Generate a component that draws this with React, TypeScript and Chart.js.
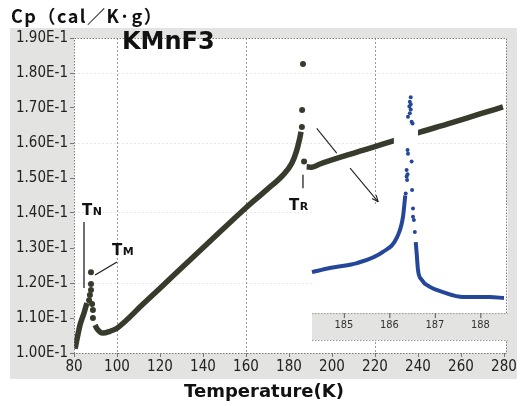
import React, { useEffect, useRef } from "react";
import { Chart, registerables } from "chart.js";
Chart.register(...registerables);

// ---- axes ----
const X_MIN = 80;
const X_MAX = 280;
const X_STEP = 20;
const Y_MIN = 0.1;
const Y_MAX = 0.19;
const Y_STEP = 0.01;
const X_GRID_VALUES = [100, 160, 220];
const Y_GRID_VALUES = [0.12, 0.14, 0.16, 0.18];
const INSET_X_MIN = 179.07;
const INSET_X_MAX = 188.52;
const INSET_TICKS = [185, 186, 187, 188];

// ---- main series (T in K, Cp in cal/K·g) ----
const RISE_T = [80.5, 82.8, 84.7, 86.0];
const RISE_CP = [0.1012, 0.108, 0.1115, 0.1143];
const TN_DOT_T = [87.0, 87.4, 87.9, 87.9, 87.9, 88.4, 88.8, 88.8];
const TN_DOT_CP = [0.1151, 0.1166, 0.118, 0.1197, 0.1231, 0.114, 0.1123, 0.11];
const MID_T = [89.8, 90.7, 92.1, 93.5, 96.7, 100, 112, 126, 142, 160, 169.6, 177.3, 181.3, 183.6, 184.8, 185.6];
const MID_CP = [0.108, 0.1069, 0.106, 0.1057, 0.1062, 0.1071, 0.1139, 0.122, 0.1312, 0.1415, 0.1466, 0.1509, 0.1542, 0.1579, 0.1608, 0.1632];
const TR_DOT_T = [186.0, 186.1, 186.5, 187.0];
const TR_DOT_CP = [0.1646, 0.1694, 0.1826, 0.1547];
const HIGH_T = [188.2, 190.7, 194.4, 211.6, 227, 240.9, 253.5, 268.8, 279.5];
const HIGH_CP = [0.1532, 0.1531, 0.154, 0.1574, 0.1603, 0.1631, 0.1654, 0.1683, 0.1703];

// ---- inset series (T in K, same Cp scale) ----
const INSET_RISE_T = [184.3, 184.69, 185.29, 185.86, 186.17, 186.3, 186.35];
const INSET_RISE_CP = [0.1231, 0.1243, 0.1257, 0.1289, 0.1331, 0.1389, 0.145];
const INSET_DOT_T = [186.47, 186.45, 186.47, 186.44, 186.47, 186.45, 186.41, 186.49, 186.51, 186.4, 186.41, 186.49, 186.38, 186.4, 186.38, 186.39, 186.5, 186.36, 186.52, 186.52, 186.54, 186.56];
const INSET_DOT_CP = [0.1731, 0.1718, 0.1711, 0.1704, 0.1696, 0.1685, 0.1675, 0.1661, 0.1656, 0.158, 0.1569, 0.1547, 0.1523, 0.1511, 0.1504, 0.1494, 0.1466, 0.1456, 0.1413, 0.1389, 0.138, 0.1346];
const INSET_FALL_T = [186.58, 186.6, 186.63, 186.71, 186.89, 187.18, 187.62, 188.21, 188.52];
const INSET_FALL_CP = [0.1317, 0.1286, 0.1237, 0.1209, 0.1189, 0.1174, 0.116, 0.116, 0.1157];

const DARK = "#363b2c";
const BLUE = "#24479a";
const TICK_FONT = "'Liberation Sans Narrow', 'DejaVu Sans Condensed', sans-serif";

const pts = (xs: number[], ys: number[]) => xs.map((x, i) => ({ x, y: ys[i] }));

function subLabel(ctx: CanvasRenderingContext2D, x: number, y: number, main: string, sub: string) {
  ctx.fillStyle = "#111";
  ctx.textAlign = "left";
  ctx.textBaseline = "alphabetic";
  ctx.font = "bold 15px 'DejaVu Sans'";
  ctx.fillText(main, x, y);
  const w = ctx.measureText(main).width;
  ctx.font = "bold 11px 'DejaVu Sans'";
  ctx.fillText(sub, x + w + 0.5, y);
}

function line(ctx: CanvasRenderingContext2D, a: number[], b: number[], w = 1.3) {
  ctx.beginPath();
  ctx.moveTo(a[0], a[1]);
  ctx.lineTo(b[0], b[1]);
  ctx.lineWidth = w;
  ctx.strokeStyle = "#222";
  ctx.stroke();
}

export default function App() {
  const ref = useRef<HTMLCanvasElement | null>(null);

  useEffect(() => {
    if (!ref.current) return;
    let patched = false;

    const insetPatch = (chart: any) => {
      const { ctx } = chart;
      const x2 = chart.scales.x2;
      const ys = chart.scales.y;
      ctx.save();
      ctx.fillStyle = "#ffffff";
      const l = x2.getPixelForValue(184.3), r = x2.getPixelForValue(188.6);
      const t = ys.getPixelForValue(0.1423), b = ys.getPixelForValue(0.1114);
      ctx.fillRect(l, t, r - l, b - t);
      const cl = x2.getPixelForValue(186.1), cr = x2.getPixelForValue(186.63);
      const ct = ys.getPixelForValue(0.1745);
      ctx.fillRect(cl, ct, cr - cl, b - ct);
      ctx.restore();
    };

    const deco = {
      id: "deco",
      beforeDraw(chart: any) {
        const { ctx, chartArea: a } = chart;
        ctx.save();
        ctx.fillStyle = "#ffffff";
        ctx.fillRect(0, 0, chart.width, chart.height);
        ctx.fillStyle = "#e3e3e1";
        ctx.fillRect(10, 28, 507, 351);
        ctx.fillStyle = "#ffffff";
        ctx.fillRect(a.left, a.top, a.right - a.left + 2, a.bottom - a.top);
        ctx.restore();
      },
      beforeDatasetsDraw() {
        patched = false;
      },
      beforeDatasetDraw(chart: any, args: any) {
        const ds = chart.data.datasets[args.index];
        if (!patched && ds.xAxisID === "x2") {
          insetPatch(chart);
          patched = true;
        }
      },
      afterDraw(chart: any) {
        const { ctx, chartArea: a } = chart;
        const xs = chart.scales.x, ys = chart.scales.y, x2 = chart.scales.x2;
        const P = (t: number, c: number) => [xs.getPixelForValue(t), ys.getPixelForValue(c)];
        ctx.save();
        ctx.setLineDash([1.5, 1.5]);
        ctx.strokeStyle = "#7d7d7d";
        ctx.lineWidth = 1;
        ctx.strokeRect(a.left + 0.5, a.top + 0.5, a.right - a.left + 2, a.bottom - a.top);
        ctx.setLineDash([]);

        // inset axis band
        const bl = x2.getPixelForValue(184.3), br = x2.getPixelForValue(188.6);
        const bt = ys.getPixelForValue(0.1114), bb = ys.getPixelForValue(0.1037);
        ctx.fillStyle = "#e3e3e1";
        ctx.fillRect(bl, bt, br - bl, bb - bt);
        ctx.setLineDash([1.5, 1.5]);
        ctx.strokeStyle = "#999";
        ctx.beginPath();
        ctx.moveTo(bl, bt + 0.5); ctx.lineTo(br, bt + 0.5);
        ctx.moveTo(bl, bb + 0.5); ctx.lineTo(br, bb + 0.5);
        ctx.stroke();
        ctx.setLineDash([]);
        ctx.font = `11px ${TICK_FONT}`;
        ctx.fillStyle = "#333";
        ctx.textAlign = "center";
        ctx.textBaseline = "middle";
        const ly = ys.getPixelForValue(0.1079);
        INSET_TICKS.forEach((v) => {
          const px = x2.getPixelForValue(v);
          ctx.fillText(String(v), px, ly);
          ctx.beginPath();
          ctx.moveTo(px + 0.5, bt);
          ctx.lineTo(px + 0.5, bt + 5);
          ctx.strokeStyle = "#555";
          ctx.lineWidth = 1;
          ctx.stroke();
        });

        // titles
        ctx.fillStyle = "#111";
        ctx.textAlign = "left";
        ctx.textBaseline = "alphabetic";
        ctx.font = "bold 18px 'Noto Sans CJK JP', sans-serif";
        (ctx as any).letterSpacing = "1.5px";
        ctx.fillText("Cp（cal／K·g）", 11, 23);
        (ctx as any).letterSpacing = "0px";
        ctx.font = "bold 24px 'DejaVu Sans', sans-serif";
        ctx.fillText("KMnF3", 122, 49);
        ctx.textAlign = "center";
        ctx.font = "bold 18px 'DejaVu Sans', sans-serif";
        ctx.fillText("Temperature(K)", 264, 397);

        // annotations
        const tn = P(83.7, 0.1394);
        subLabel(ctx, tn[0], tn[1], "T", "N");
        line(ctx, P(84.65, 0.1374), P(84.65, 0.1186), 1.3);
        const tm = P(97.7, 0.128);
        subLabel(ctx, tm[0], tm[1], "T", "M");
        line(ctx, P(89.8, 0.1223), P(100, 0.126), 1.3);
        const tr = P(180, 0.1409);
        subLabel(ctx, tr[0], tr[1], "T", "R");
        line(ctx, P(186.5, 0.1509), P(186.5, 0.1471), 1.3);

        // arrow
        line(ctx, P(192.9, 0.1642), P(202.2, 0.1571), 1.1);
        const s = P(208.4, 0.1528), e = P(221.5, 0.1432);
        line(ctx, s, e, 1.1);
        const ang = Math.atan2(e[1] - s[1], e[0] - s[0]);
        ctx.beginPath();
        ctx.moveTo(e[0], e[1]);
        ctx.lineTo(e[0] - 7 * Math.cos(ang - 0.4), e[1] - 7 * Math.sin(ang - 0.4));
        ctx.moveTo(e[0], e[1]);
        ctx.lineTo(e[0] - 7 * Math.cos(ang + 0.4), e[1] - 7 * Math.sin(ang + 0.4));
        ctx.stroke();
        ctx.restore();
      },
    };

    const mainLine = (xs: number[], ys: number[]) => ({
      data: pts(xs, ys),
      showLine: true,
      borderColor: DARK,
      backgroundColor: DARK,
      borderWidth: 5.5,
      pointRadius: 0,
      cubicInterpolationMode: "monotone",
      order: 1,
    });
    const mainDots = (xs: number[], ys: number[]) => ({
      data: pts(xs, ys),
      showLine: false,
      backgroundColor: DARK,
      borderColor: DARK,
      borderWidth: 0,
      pointRadius: 3,
      order: 1,
    });
    const insetLine = (xs: number[], ys: number[]) => ({
      data: pts(xs, ys),
      xAxisID: "x2",
      showLine: true,
      borderColor: BLUE,
      backgroundColor: BLUE,
      borderWidth: 4,
      pointRadius: 0,
      cubicInterpolationMode: "monotone",
      order: 0,
    });

    const chart = new Chart(ref.current, {
      type: "scatter",
      data: {
        datasets: [
          mainLine(RISE_T, RISE_CP),
          mainLine(MID_T, MID_CP),
          mainLine(HIGH_T, HIGH_CP),
          mainDots(TN_DOT_T, TN_DOT_CP),
          mainDots(TR_DOT_T, TR_DOT_CP),
          insetLine(INSET_RISE_T, INSET_RISE_CP),
          {
            data: pts(INSET_DOT_T, INSET_DOT_CP),
            xAxisID: "x2",
            showLine: false,
            backgroundColor: BLUE,
            borderColor: BLUE,
            borderWidth: 0,
            pointRadius: 2,
            order: 0,
          },
          insetLine(INSET_FALL_T, INSET_FALL_CP),
        ] as any,
      },
      plugins: [deco],
      options: {
        responsive: false,
        animation: false,
        devicePixelRatio: 1,
        layout: { padding: { left: 0, top: 38, right: 18, bottom: 0 } },
        plugins: { legend: { display: false }, tooltip: { enabled: false }, title: { display: false } },
        scales: {
          x: {
            type: "linear",
            min: X_MIN,
            max: X_MAX,
            afterFit: (s: any) => { s.height = 53; },
            ticks: { stepSize: X_STEP, color: "#222", font: { family: TICK_FONT, size: 15 }, padding: 1, maxRotation: 0 },
            grid: {
              color: (c: any) => (c.tick && X_GRID_VALUES.includes(c.tick.value) ? "#9a9a9a" : "rgba(0,0,0,0)"),
              tickColor: "#777",
              tickLength: 4,
              lineWidth: 1,
            },
            border: { display: false, dash: [2, 2] },
            title: { display: false },
          },
          x2: { type: "linear", min: INSET_X_MIN, max: INSET_X_MAX, display: false },
          y: {
            type: "linear",
            min: Y_MIN,
            max: Y_MAX,
            afterFit: (s: any) => { s.width = 74; },
            ticks: {
              stepSize: Y_STEP,
              color: "#222",
              font: { family: TICK_FONT, size: 15 },
              padding: 2,
              callback: (v: any) => (Number(v) * 10).toFixed(2) + "E-1",
            },
            grid: {
              color: (c: any) =>
                c.tick && Y_GRID_VALUES.some((g) => Math.abs(g - c.tick.value) < 1e-6) ? "rgba(0,0,0,0.09)" : "rgba(0,0,0,0)",
              tickColor: "#777",
              tickLength: 4,
            },
            border: { display: false, dash: [2, 2] },
          },
        },
      } as any,
    });
    return () => chart.destroy();
  }, []);

  return (
    <div style={{ position: "absolute", left: 0, top: 0, width: 522, height: 406 }}>
      <canvas ref={ref} width={522} height={406} />
    </div>
  );
}
